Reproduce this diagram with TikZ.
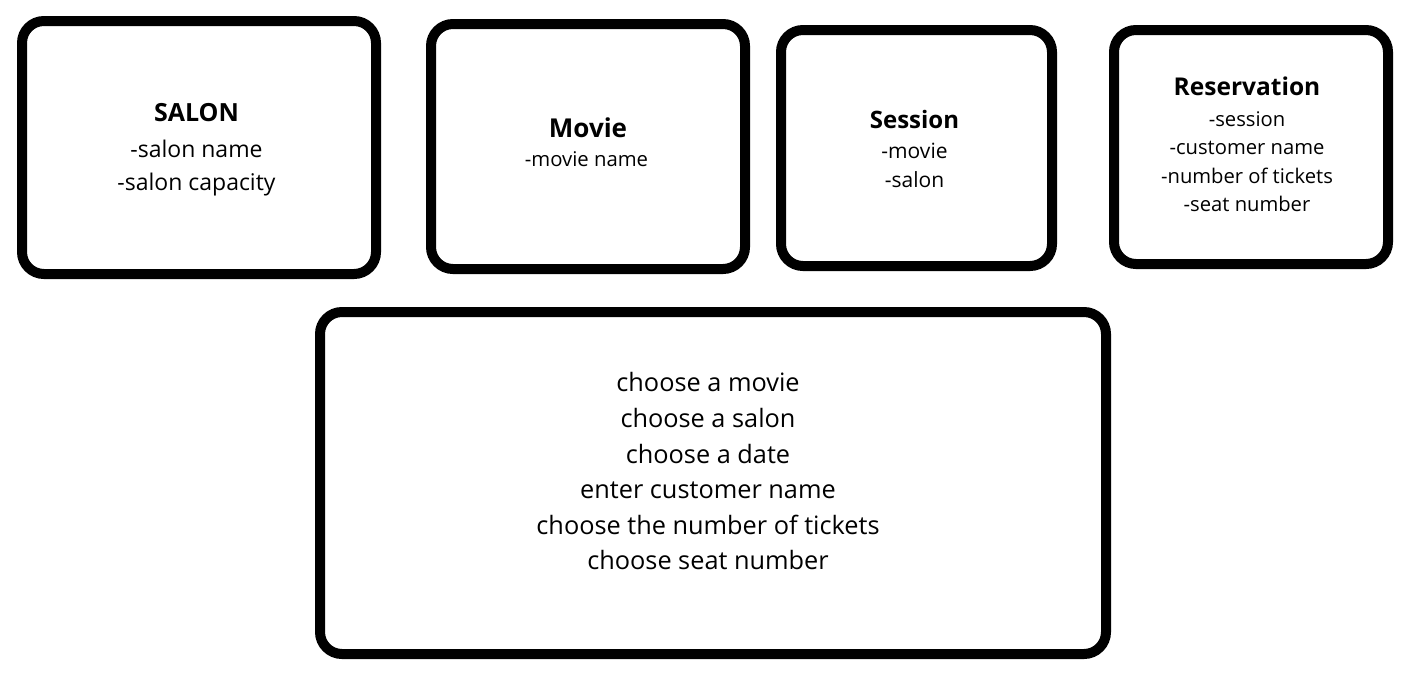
\documentclass[tikz,border=0pt]{standalone}
\usepackage{fontspec}
\setmainfont{Open Sans}
\usepackage{tikz}

\begin{document}
\begin{tikzpicture}[x=1pt,y=-1pt,
    box/.style={draw=black,line width=10pt,rounded corners=22pt,inner sep=0pt},
    titletext/.style={anchor=base,inner sep=0pt,font=\fontsize{#1}{#1}\selectfont\bfseries},
    attrtext/.style={anchor=base,inner sep=0pt,font=\fontsize{#1}{#1}\selectfont}]
    \useasboundingbox (0,0) rectangle (1416,672);
    % boxes
    \node[box,minimum width=354pt,minimum height=253pt] (salon) at (199,147.5) {};
    \node[box,minimum width=314pt,minimum height=245pt] (movie) at (588,146.5) {};
    \node[box,minimum width=271pt,minimum height=236pt] (session) at (916.5,148) {};
    \node[box,minimum width=274pt,minimum height=234pt] (reservation) at (1251,147) {};
    \node[box,minimum width=786pt,minimum height=342pt] (steps) at (713,483) {};
    % SALON
    \node[titletext=25] (salon-title) at (196.5,121.7) {SALON};
    \foreach \t [count=\i] in {-salon name,-salon capacity}
        \node[attrtext=23] (salon-\i) at (196.5,125.4+32.3*\i) {\t};
    % Movie
    \node[titletext=26] (movie-title) at (588,137.7) {Movie};
    \node[attrtext=20.3] (movie-1) at (586.5,166.7) {-movie name};
    % Session
    \node[titletext=24] (session-title) at (914.5,128.3) {Session};
    \foreach \t [count=\i] in {-movie,-salon}
        \node[attrtext=21] (session-\i) at (914.5,128.9+29.4*\i) {\t};
    % Reservation
    \node[titletext=24.5] (reservation-title) at (1247,95) {Reservation};
    \foreach \t [count=\i] in {-session,-customer name,-number of tickets,-seat number}
        \node[attrtext=20.2] (reservation-\i) at (1247,97.5+28.5*\i) {\t};
    % steps
    \foreach \t [count=\i] in {choose a movie,choose a salon,choose a date,enter customer name,choose the number of tickets,choose seat number}
        \node[attrtext=25.3] (steps-\i) at (708,356.3+35.6*\i) {\t};
\end{tikzpicture}
\end{document}
